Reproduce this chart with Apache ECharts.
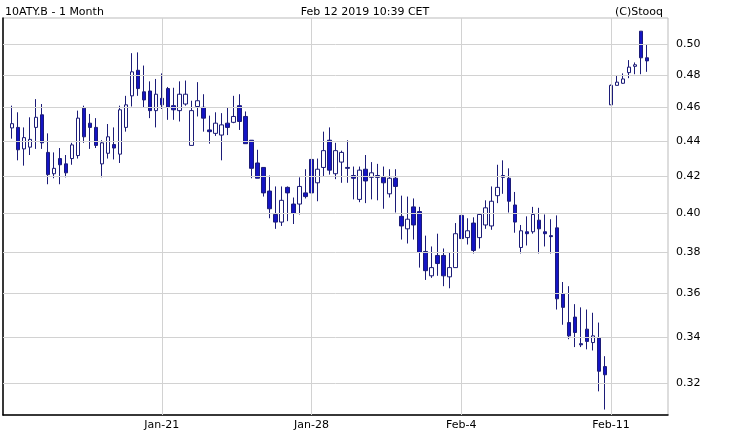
<!DOCTYPE html>
<html>
<head>
<meta charset="utf-8">
<script src="https://cdn.jsdelivr.net/npm/echarts@6/dist/echarts.min.js"></script>
<style>
  html, body { margin: 0; padding: 0; background: #fff; }
  #chart { width: 730px; height: 439px; }
</style>
</head>
<body>
<div id="chart"></div>
<script>
// slots on the time axis (one per hour bar), empty slots at both ends
var slotCount = 111;
var firstSlot = 1;
var dateLabels = { 26: 'Jan-21', 51: 'Jan-28', 76: 'Feb-4', 101: 'Feb-11' };
var yTicks = [0.32, 0.34, 0.36, 0.38, 0.40, 0.42, 0.44, 0.46, 0.48, 0.50];

// open, close, high, low per bar
var opens = [0.4477, 0.448, 0.4355, 0.4365, 0.448, 0.4555, 0.4335, 0.4215, 0.43, 0.427,
  0.43, 0.4317, 0.4595, 0.4505, 0.448, 0.427, 0.433, 0.438, 0.4325, 0.448,
  0.467, 0.483, 0.4695, 0.470, 0.458, 0.4655, 0.4715, 0.461, 0.458, 0.462,
  0.4375, 0.4605, 0.46, 0.4465, 0.4445, 0.4435, 0.4505, 0.451, 0.461, 0.4545,
  0.4405, 0.4275, 0.425, 0.412, 0.3995, 0.3955, 0.414, 0.405, 0.405, 0.411,
  0.4295, 0.4165, 0.425, 0.4405, 0.4215, 0.428, 0.425, 0.4205, 0.4075, 0.424,
  0.4195, 0.4205, 0.4195, 0.4105, 0.419, 0.3985, 0.392, 0.4035, 0.401, 0.3805,
  0.3685, 0.3785, 0.3785, 0.368, 0.3725, 0.399, 0.3875, 0.395, 0.3875, 0.394,
  0.3935, 0.4095, 0.4205, 0.419, 0.4045, 0.3825, 0.3905, 0.3905, 0.3965, 0.3905,
  0.3885, 0.3925, 0.36, 0.3465, 0.349, 0.337, 0.3435, 0.3375, 0.3395, 0.327,
  0.4615, 0.4735, 0.4748, 0.4815, 0.4855, 0.5085, 0.491];
var closes = [0.4502, 0.435, 0.442, 0.441, 0.454, 0.439, 0.421, 0.4245, 0.4265, 0.422,
  0.4378, 0.4535, 0.4425, 0.448, 0.4375, 0.439, 0.4425, 0.436, 0.4585, 0.4615,
  0.482, 0.4715, 0.4645, 0.458, 0.468, 0.4615, 0.46, 0.4585, 0.468, 0.468,
  0.458, 0.464, 0.4535, 0.4455, 0.4505, 0.4495, 0.448, 0.4545, 0.4515, 0.4385,
  0.4245, 0.419, 0.411, 0.4025, 0.3955, 0.407, 0.411, 0.40, 0.4145, 0.409,
  0.411, 0.424, 0.4345, 0.4235, 0.4345, 0.4335, 0.4245, 0.419, 0.4235, 0.4175,
  0.422, 0.4195, 0.4165, 0.419, 0.4145, 0.3935, 0.397, 0.394, 0.38, 0.371,
  0.3725, 0.3745, 0.3685, 0.3725, 0.3895, 0.387, 0.391, 0.381, 0.3995, 0.403,
  0.4065, 0.414, 0.4195, 0.4065, 0.3955, 0.391, 0.3895, 0.3995, 0.392, 0.3895,
  0.388, 0.3575, 0.3535, 0.3405, 0.342, 0.3365, 0.338, 0.3405, 0.325, 0.3235,
  0.4735, 0.4755, 0.4775, 0.485, 0.4865, 0.491, 0.489];
var highs = [0.461, 0.457, 0.448, 0.454, 0.465, 0.462, 0.4445, 0.4335, 0.436, 0.432,
  0.439, 0.458, 0.461, 0.456, 0.4535, 0.4405, 0.45, 0.448, 0.461, 0.467,
  0.494, 0.4945, 0.486, 0.476, 0.4775, 0.481, 0.4725, 0.472, 0.476, 0.4765,
  0.464, 0.4755, 0.468, 0.455, 0.457, 0.4565, 0.46, 0.467, 0.468, 0.4575,
  0.4405, 0.435, 0.4252, 0.4205, 0.4145, 0.4145, 0.4145, 0.4085, 0.4195, 0.424,
  0.4295, 0.430, 0.4455, 0.448, 0.439, 0.4345, 0.4405, 0.4255, 0.4255, 0.432,
  0.428, 0.427, 0.4255, 0.424, 0.424, 0.4095, 0.409, 0.408, 0.4035, 0.3885,
  0.383, 0.3895, 0.382, 0.380, 0.395, 0.4035, 0.3975, 0.398, 0.40, 0.407,
  0.4145, 0.4265, 0.429, 0.4245, 0.4115, 0.394, 0.3985, 0.4035, 0.403, 0.3995,
  0.397, 0.399, 0.3655, 0.3635, 0.355, 0.3535, 0.3525, 0.351, 0.3465, 0.3315,
  0.474, 0.48, 0.481, 0.4895, 0.488, 0.5085, 0.50];
var lows = [0.4414, 0.429, 0.426, 0.432, 0.4355, 0.4355, 0.4157, 0.419, 0.4157, 0.4195,
  0.4265, 0.43, 0.439, 0.4355, 0.436, 0.4195, 0.43, 0.4295, 0.4275, 0.4455,
  0.4605, 0.467, 0.46, 0.4535, 0.448, 0.459, 0.4525, 0.4525, 0.4515, 0.461,
  0.4375, 0.4545, 0.4455, 0.4385, 0.443, 0.429, 0.4435, 0.4505, 0.4465, 0.4385,
  0.419, 0.419, 0.409, 0.3975, 0.392, 0.3935, 0.396, 0.3945, 0.3995, 0.408,
  0.408, 0.4065, 0.42, 0.421, 0.4185, 0.4165, 0.4165, 0.4075, 0.406, 0.4055,
  0.4075, 0.407, 0.4025, 0.4085, 0.4005, 0.3865, 0.3845, 0.3865, 0.3725, 0.3665,
  0.3675, 0.3685, 0.3635, 0.3625, 0.3725, 0.3855, 0.384, 0.3795, 0.382, 0.392,
  0.3915, 0.4055, 0.4105, 0.4005, 0.390, 0.3795, 0.3835, 0.3895, 0.3795, 0.383,
  0.3795, 0.3525, 0.3455, 0.339, 0.3355, 0.3355, 0.3345, 0.334, 0.3165, 0.309,
  0.4615, 0.4735, 0.4745, 0.478, 0.4805, 0.4805, 0.482];

(function () {
    var chartDom = document.getElementById('chart');
    var myChart = echarts.init(chartDom, null, { renderer: 'canvas' });

    var categories = [];
    for (var i = 0; i < slotCount; i++) categories.push(dateLabels[i] || String(i));

    var candles = [];
    for (var k = 0; k < slotCount; k++) {
        var n = k - firstSlot;
        if (n >= 0 && n < opens.length) candles.push([opens[n], closes[n], lows[n], highs[n]]);
        else candles.push('-');
    }

    var gridLines = yTicks.map(function (v) {
        return { yAxis: v, label: { formatter: v.toFixed(2) } };
    });
    Object.keys(dateLabels).forEach(function (idx) {
        gridLines.push({ xAxis: Number(idx), label: { show: false } });
    });

    var option = {
        animation: false,
        backgroundColor: '#fff',
        textStyle: { fontFamily: 'DejaVu Sans' },
        title: [
            { text: '10ATY.B - 1 Month', left: 0, top: 2, textStyle: { fontSize: 11, fontWeight: 'normal', color: '#000' } },
            { text: 'Feb 12 2019 10:39 CET', left: 'center', top: 2, textStyle: { fontSize: 11, fontWeight: 'normal', color: '#000' } },
            { text: '(C)Stooq', right: 62, top: 2, textStyle: { fontSize: 11, fontWeight: 'normal', color: '#000' } }
        ],
        grid: { left: 3, right: 62, top: 18, bottom: 24, show: true, borderColor: '#bbb', borderWidth: 1 },
        xAxis: {
            type: 'category',
            data: categories,
            boundaryGap: true,
            axisLine: { lineStyle: { color: '#000', width: 1.5 } },
            axisTick: { show: false },
            splitLine: { show: false },
            axisLabel: {
                customValues: Object.keys(dateLabels).map(Number),
                formatter: function (v) { return dateLabels[v] || v; },
                hideOverlap: false,
                color: '#000', fontSize: 11, margin: 5
            }
        },
        yAxis: {
            type: 'log',
            logBase: 10,
            min: 0.3068,
            max: 0.5174,
            position: 'left',
            axisLine: { show: true, lineStyle: { color: '#000', width: 1.5 } },
            axisTick: { show: false },
            axisLabel: { show: false },
            splitLine: { show: false }
        },
        series: [{
            type: 'candlestick',
            data: candles,
            barWidth: 4,
            itemStyle: {
                color: '#ffffff',
                color0: '#1414c4',
                borderColor: '#1c1c78',
                borderColor0: '#1c1c78',
                borderWidth: 1
            },
            markLine: {
                silent: true,
                symbol: 'none',
                animation: false,
                lineStyle: { color: '#d2d2d2', type: 'solid', width: 1 },
                label: { position: 'end', color: '#000', fontSize: 11, distance: 8 },
                data: gridLines
            }
        }]
    };

    myChart.setOption(option);
    window.addEventListener('resize', function () {
        myChart.resize();
    });
})();
</script>
</body>
</html>
